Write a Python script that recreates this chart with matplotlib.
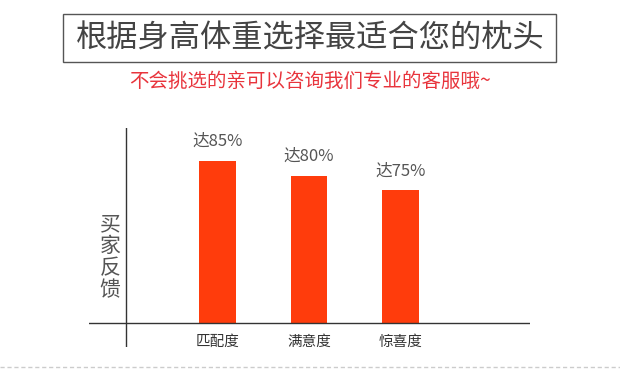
import matplotlib
matplotlib.use("Agg")
import matplotlib.pyplot as plt
from matplotlib.patches import Rectangle

plt.rcParams['font.family'] = ['Noto Sans CJK SC', 'DejaVu Sans']

# 数据
categories = ["匹配度", "满意度", "惊喜度"]
values = [85, 80, 75]
value_labels = ["达85%", "达80%", "达75%"]
title = "根据身高体重选择最适合您的枕头"
subtitle = "不会挑选的亲可以咨询我们专业的客服哦~"
ylabel = "买家反馈"

base = 30  # 坐标轴起点

fig = plt.figure(figsize=(6.2, 3.73), dpi=100)
W, H = 620, 373

# 标题框
fig.patches.append(Rectangle((63 / W, 1 - 62 / H), (556 - 63) / W, 48 / H,
                             transform=fig.transFigure, fill=False,
                             edgecolor='#555555', linewidth=1.0))
fig.text(0.5, 1 - 38 / H, title, ha='center', va='center',
         fontsize=22.5, color='#444444')
fig.text(0.5, 1 - 81 / H, subtitle, ha='center', va='center',
         fontsize=14, color='#e8343c')

# 底部虚线
fig.add_artist(plt.Line2D([0, 1], [1 - 367 / H, 1 - 367 / H],
                          transform=fig.transFigure, color='#cccccc',
                          linewidth=1, linestyle=(0, (3, 2))))

ax = fig.add_axes([89 / W, 1 - 347 / H, (530 - 89) / W, (347 - 128) / H])
x = list(range(len(categories)))
heights = [v - base for v in values]
ax.bar(x, heights, bottom=base, width=0.4, color='#ff3c0c')
for xi, v, lab in zip(x, values, value_labels):
    ax.text(xi, v + 6.5, lab, ha='center', va='center', fontsize=12,
            color='#555555')
for xi, c in zip(x, categories):
    ax.text(xi, base - 6.5, c, ha='center', va='center', fontsize=10.5,
            color='#333333')

ax.set_xlim(-1.41, 3.42)
ax.set_ylim(21.9, 96.1)
ax.axhline(base, color='#333333', linewidth=1)
ax.axvline(-1.0, color='#333333', linewidth=1)
for s in ax.spines.values():
    s.set_visible(False)
ax.set_xticks([])
ax.set_yticks([])
ax.patch.set_alpha(0)

fig.text(110 / W, 1 - 257 / H, "\n".join(ylabel), ha='center', va='center',
         fontsize=15, color='#555555', linespacing=1.0)

fig.savefig("out.png", dpi=100)
